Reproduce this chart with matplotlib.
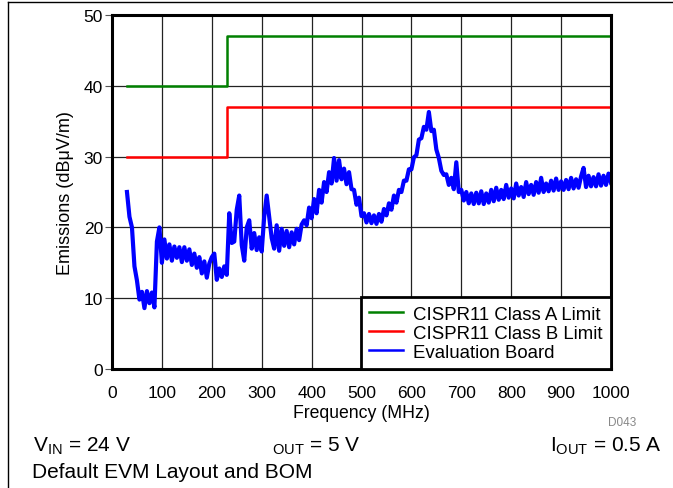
import matplotlib
matplotlib.use('Agg')
import matplotlib.pyplot as plt
from matplotlib.lines import Line2D

plt.rcParams['font.family'] = ['Liberation Sans', 'DejaVu Sans']
plt.rcParams['mathtext.default'] = 'regular'

# limit lines (step at 230 MHz)
limit_freq = [30, 230, 1000]
class_a = [40, 47, 47]
class_b = [30, 37, 37]

board_freq = list(range(30, 1001, 5))
board_emis = [
    25.0, 21.5, 20.0, 14.5, 12.5, 9.8, 10.9, 8.6, 11.0, 9.3,
    10.8, 8.7, 18.0, 20.0, 15.0, 18.3, 15.6, 17.6, 15.3, 17.3,
    15.7, 17.2, 15.1, 17.2, 15.3, 16.9, 14.7, 16.3, 14.3, 15.8,
    13.5, 15.2, 12.9, 14.9, 15.8, 16.3, 12.6, 14.2, 13.0, 14.5,
    13.3, 22.0, 17.8, 18.0, 22.5, 24.5, 17.5, 15.3, 20.0, 21.0,
    17.0, 19.2, 16.8, 18.6, 16.6, 21.5, 24.5, 21.5, 18.5, 17.0,
    20.3, 16.7, 19.8, 17.4, 19.5, 17.2, 19.3, 17.6, 19.8, 18.2,
    20.4, 21.0, 20.3, 22.8, 21.3, 24.0, 22.0, 25.3, 23.5, 26.4,
    25.0, 27.8, 26.2, 29.8, 26.6, 29.5, 26.8, 28.3, 26.1, 27.8,
    25.4, 25.3, 23.2, 24.2, 21.6, 22.0, 20.7, 21.9, 20.6, 21.7,
    20.5, 21.9, 20.8, 22.6, 21.7, 23.4, 22.5, 24.5, 23.5, 25.3,
    25.0, 26.6, 26.6, 28.2, 28.2, 29.9, 30.2, 32.4, 32.6, 34.2,
    33.8, 36.3, 33.6, 33.8, 31.0, 29.8, 28.0, 27.4, 27.5, 26.0,
    27.0, 25.4, 29.2, 25.0, 25.3, 23.8, 25.0, 23.4, 24.8, 23.3,
    24.9, 23.4, 25.1, 23.3, 24.8, 23.5, 25.3, 23.7, 25.6, 23.9,
    25.3, 24.0, 26.0, 24.2, 25.5, 24.1, 26.2, 24.5, 25.7, 24.3,
    26.4, 24.7, 26.0, 24.6, 26.4, 24.9, 27.0, 25.0, 26.2, 25.1,
    26.6, 25.2, 26.9, 25.3, 26.5, 25.3, 26.7, 25.4, 27.0, 25.5,
    26.8, 25.6, 27.2, 28.4, 25.7, 27.3, 25.8, 27.1, 25.8, 27.5,
    25.9, 27.3, 26.0, 27.6, 26.3,
]

x_ticks = list(range(0, 1001, 100))
y_ticks = list(range(0, 51, 10))

fig = plt.figure(figsize=(6.73, 4.89), dpi=100)
ax = fig.add_axes([112/673, 1 - 370/489, 499/673, 354/489])

ax.plot(limit_freq, class_a, drawstyle='steps-post', color='#008000', lw=1.8,
        label='CISPR11 Class A Limit', zorder=3)
ax.plot(limit_freq, class_b, drawstyle='steps-post', color='#ff0000', lw=1.8,
        label='CISPR11 Class B Limit', zorder=3)
ax.plot(board_freq, board_emis, color='#0000ff', lw=3.0,
        label='Evaluation Board', zorder=3)

ax.set_xlim(0, 1000)
ax.set_ylim(0, 50)
ax.set_xticks(x_ticks)
ax.set_yticks(y_ticks)
ax.grid(True, color='#222222', lw=0.9, zorder=1)
ax.set_axisbelow(True)
ax.tick_params(axis='y', direction='out', length=5, width=0.8, color='#555555',
               labelsize=12.5, pad=1.5)
ax.tick_params(axis='x', length=0, labelsize=12.5, pad=11.5)
for s in ax.spines.values():
    s.set_linewidth(2.2)
    s.set_zorder(5)

ax.set_xlabel('Frequency (MHz)', fontsize=12.7, labelpad=3)
ax.set_ylabel('Emissions (dB\u03bcV/m)', fontsize=13, labelpad=7)

leg = ax.legend(loc='lower right', bbox_to_anchor=(1.0, 0.0), borderaxespad=0,
                fontsize=13.4, fancybox=False, handlelength=1.8,
                handletextpad=0.55, labelspacing=0.1, borderpad=0.45,
                framealpha=1)
leg.get_frame().set_edgecolor('black')
leg.get_frame().set_linewidth(2)
leg.set_zorder(6)
for h in leg.get_lines():
    h.set_linewidth(1.8)

fig.text(608/673, 1 - 423/489, 'D043', fontsize=8.5, color='#888888', va='center')
fig.text(33/673, 1 - 452/489, r'V$_{IN}$ = 24 V', fontsize=15, va='baseline')
fig.text(272/673, 1 - 452/489, r'$_{OUT}$ = 5 V', fontsize=15, va='baseline')
fig.text(662/673, 1 - 452/489, r'I$_{OUT}$ = 0.5 A', fontsize=15, va='baseline',
         ha='right')
fig.text(32/673, 1 - 478/489, 'Default EVM Layout and BOM', fontsize=15,
         va='baseline')

# page frame lines (left and top)
fig.add_artist(Line2D([8/673, 8/673], [0, 1 - 3/489], color='black', lw=1,
                      transform=fig.transFigure))
fig.add_artist(Line2D([8/673, 1], [1 - 3/489, 1 - 3/489], color='black', lw=1,
                      transform=fig.transFigure))

fig.savefig('out.png', dpi=100)
